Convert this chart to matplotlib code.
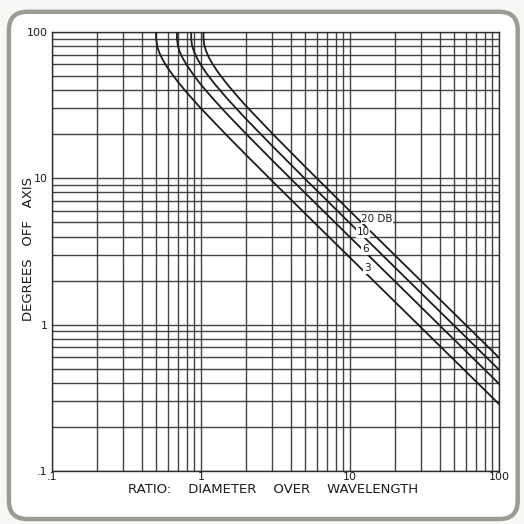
"""
Beam angle off axis versus diameter/wavelength ratio, log-log chart.
"""
import matplotlib.pyplot as plt
from matplotlib.patches import FancyBboxPatch

# curve points read per attenuation level (x = D/lambda, y = degrees off axis)
x_3db = [0.50, 0.50, 0.51, 0.53, 0.56, 0.60, 0.70, 0.80, 1.0, 1.5, 2.0, 3.0, 5.0, 10.0, 100.0]
y_3db = [100, 90, 78.6, 70.6, 63.2, 56.4, 45.6, 38.7, 30.0, 19.5, 14.5, 9.6, 5.74, 2.87, 0.287]

x_6db = [0.69, 0.69, 0.70, 0.72, 0.75, 0.80, 0.90, 1.0, 1.2, 1.5, 2.0, 3.0, 5.0, 10.0, 100.0]
y_6db = [100, 90, 80.3, 73.4, 66.9, 59.6, 50.1, 43.6, 35.1, 27.4, 20.2, 13.3, 7.93, 3.96, 0.395]

x_10db = [0.86, 0.86, 0.87, 0.90, 0.95, 1.0, 1.1, 1.25, 1.5, 2.0, 3.0, 5.0, 10.0, 100.0]
y_10db = [100, 90, 81.3, 72.9, 64.9, 59.3, 51.4, 43.5, 35.0, 25.5, 16.7, 9.90, 4.93, 0.493]

x_20db = [1.04, 1.04, 1.05, 1.08, 1.13, 1.2, 1.3, 1.5, 1.75, 2.0, 3.0, 5.0, 10.0, 100.0]
y_20db = [100, 90, 82.1, 74.4, 66.9, 60.1, 53.1, 43.9, 36.5, 31.3, 20.3, 12.0, 5.97, 0.596]

curve_labels = ['3', '6', '10', '20 DB']
label_x = [12.4, 12.0, 11.1, 11.9]
label_y = [2.42, 3.27, 4.27, 5.3]

x_ticks = [0.1, 1, 10, 100]
x_tick_labels = ['.1', '1', '10', '100']
y_ticks = [0.1, 1, 10, 100]
y_tick_labels = ['.1', '1', '10', '100']

GRID = '#2e2e2e'
INK = '#1c1c1c'

fig = plt.figure(figsize=(5.24, 5.24), dpi=100)
fig.patch.set_facecolor('#f7f7f5')

# rounded card frame behind the chart
frame = FancyBboxPatch((0.017, 0.0095), 0.971, 0.968,
                       boxstyle='round,pad=0,rounding_size=0.035',
                       transform=fig.transFigure, facecolor='white',
                       edgecolor='#9c9c92', linewidth=3.2, zorder=-1)
fig.patches.append(frame)

ax = fig.add_axes([0.0992, 0.1011, 0.853, 0.838])
ax.set_zorder(2)
ax.set_xscale('log')
ax.set_yscale('log')
ax.set_xlim(0.1, 100)
ax.set_ylim(0.1, 100)
ax.set_facecolor('white')

ax.grid(True, which='both', color=GRID, linewidth=1.0, alpha=0.9)
ax.set_axisbelow(True)
for sp in ax.spines.values():
    sp.set_color(GRID)
    sp.set_linewidth(1.0)

for xs, ys in [(x_3db, y_3db), (x_6db, y_6db), (x_10db, y_10db), (x_20db, y_20db)]:
    ax.plot(xs, ys, color=INK, linewidth=1.3, zorder=3)

for lab, lx, ly in zip(curve_labels, label_x, label_y):
    ax.text(lx, ly, lab, fontsize=7.5, color=INK, ha='left', va='center',
            zorder=4, bbox=dict(facecolor='white', edgecolor='none', pad=0.3))

ax.set_xticks(x_ticks)
ax.set_xticklabels(x_tick_labels)
ax.set_yticks(y_ticks)
ax.set_yticklabels(y_tick_labels)
ax.tick_params(which='both', length=0, labelsize=8, colors=INK, pad=3)
ax.tick_params(axis='x', pad=1)

fig.text(0.054, 0.525, 'DEGREES   OFF   AXIS', rotation=90, fontsize=9.5,
         color=INK, ha='center', va='center')
fig.text(0.522, 0.059, 'RATIO:    DIAMETER    OVER    WAVELENGTH', fontsize=9.5,
         color=INK, ha='center', va='baseline')

plt.savefig('out.png', dpi=100)
plt.close()
